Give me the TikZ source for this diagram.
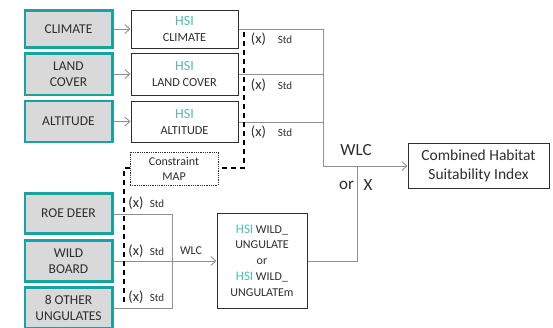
\documentclass[tikz,border=0pt]{standalone}
\usepackage{fontspec}
\setmainfont{Carlito}
\usetikzlibrary{arrows.meta}
\definecolor{tealb}{HTML}{17A3A3}
\definecolor{hsic}{HTML}{4DBDBD}
\definecolor{boxgray}{HTML}{D9D9D9}
\definecolor{txt}{HTML}{2E2E2E}
\definecolor{ln}{HTML}{909090}
\newcommand{\fs}[2]{\fontsize{#1}{#2}\selectfont}
\newcommand{\hsi}{\textcolor{hsic}{HSI}}
\begin{document}
\begin{tikzpicture}[x=1pt,y=-1pt,
  inbox/.style={draw=tealb, line width=2.5pt, fill=boxgray, minimum width=87.5pt, inner sep=0pt, align=center, text=txt, font=\fs{13.5}{16.5}},
  hsibox/.style={draw=txt, line width=1pt, fill=white, minimum width=107pt, inner sep=0pt, align=center, text=txt, font=\fs{12.3}{16}},
  resbox/.style={draw=txt, line width=1pt, fill=white, inner sep=0pt, align=center, text=txt},
  cbox/.style={draw=txt, densely dotted, line width=0.8pt, fill=white, minimum width=88pt, minimum height=33pt, inner sep=0pt, align=center, text=txt, font=\fs{12}{15}},
  conn/.style={draw=ln, line width=0.9pt},
  arr/.style={conn, -{Straight Barb[length=5pt,width=9pt]}},
  dsh/.style={draw=black, line width=1.4pt, dash pattern=on 5pt off 4pt},
  xl/.style={text=txt, font=\fs{14.5}{16}, inner sep=0pt},
  sl/.style={text=txt, font=\fs{11}{12}, inner sep=0pt},
  lab/.style={text=txt, inner sep=0pt}]
\useasboundingbox (0,0) rectangle (553,327);
\clip (0,0) rectangle (553,327);
% input boxes
\node[inbox, minimum height=37pt] (clim) at (68.5,29) {CLIMATE};
\node[inbox, minimum height=41.5pt] (land) at (68.5,74) {LAND\\COVER};
\node[inbox, minimum height=41pt] (alt) at (68.5,121.5) {ALTITUDE};
\node[inbox, minimum height=40pt] (roe) at (68.5,213.5) {ROE DEER};
\node[inbox, minimum height=41pt] (wild) at (68.5,261) {WILD\\BOARD};
\node[inbox, minimum height=41pt] (oth) at (68.5,308) {8 OTHER\\UNGULATES};
% HSI boxes
\node[hsibox, minimum height=38pt] (hclim) at (184.5,29) {{\fs{14}{16}\hsi}\\CLIMATE};
\node[hsibox, minimum height=42pt] (hland) at (184.5,74) {{\fs{14}{16}\hsi}\\LAND COVER};
\node[hsibox, minimum height=41pt] (halt) at (184.5,121.5) {{\fs{14}{16}\hsi}\\ALTITUDE};
% constraint map
\node[cbox] (cmap) at (174,168.5) {Constraint\\MAP};
% wild ungulate box
\node[resbox, minimum width=90pt, minimum height=95pt, font=\fs{12}{15.7}] (hwild) at (262,260.5)
  {{\fs{13}{15.7}\hsi} WILD\_\\UNGULATE\\or\\{\fs{13}{15.7}\hsi} WILD\_\\UNGULATEm};
% combined box
\node[resbox, minimum width=141pt, minimum height=45pt, font=\fs{15.5}{19}] (comb) at (478.5,165.5)
  {Combined Habitat\\Suitability Index};
% arrows input -> HSI
\draw[arr] (clim.east) -- (hclim.west);
\draw[arr] (land.east) -- (hland.west);
\draw[arr] (alt.east) -- (halt.west);
% HSI -> combination
\coordinate (j1) at (323,29);
\coordinate (j2) at (323,74);
\coordinate (j3) at (323,122);
\coordinate (j4) at (323,166);
\draw[conn] (hclim.east) -- (j1) -- (j4);
\draw[conn] (hland.east |- j2) -- (j2);
\draw[conn] (halt.east |- j3) -- (j3);
\draw[arr] (j4) -- (comb.west |- j4);
% ungulates
\coordinate (u1) at (172,214);
\coordinate (u3) at (172,308);
\draw[conn] (roe.east |- u1) -- (u1) -- (u3) -- (oth.east |- u3);
\draw[arr] (wild.east) -- (hwild.west |- wild.east);
\coordinate (w1) at (357,261);
\coordinate (w2) at (357,166);
\draw[conn] (hwild.east |- w1) -- (w1) -- (w2);
% dashed constraint lines
\coordinate (d1) at (244,32);
\coordinate (d2) at (244,168);
\coordinate (d3) at (124,168);
\coordinate (d4) at (124,306);
\draw[dsh] (d1) -- (d2) -- (cmap.east |- d2);
\draw[dsh] (cmap.west |- d3) -- (d3) -- (d4);
% labels
\node[xl] (x1) at (258.5,39) {(x)};
\node[sl] (s1) at (285,39.5) {Std};
\node[xl] (x2) at (258.5,85) {(x)};
\node[sl] (s2) at (285,85.5) {Std};
\node[xl] (x3) at (258.5,132) {(x)};
\node[sl] (s3) at (285,132.5) {Std};
\node[xl] (x4) at (136,203) {(x)};
\node[sl] (s4) at (157,203.5) {Std};
\node[xl] (x5) at (136,251) {(x)};
\node[sl] (s5) at (157,251.5) {Std};
\node[xl] (x6) at (136,297) {(x)};
\node[sl] (s6) at (157,297.5) {Std};
\node[lab, font=\fs{12}{14}] (wlc2) at (191,251) {WLC};
\node[lab, font=\fs{17}{19}] (wlc1) at (356,150) {WLC};
\node[lab, font=\fs{17}{19}] (or1) at (346.5,185) {or};
\node[lab, font=\fs{17}{19}] (xx) at (368,185) {X};
\end{tikzpicture}
\end{document}
